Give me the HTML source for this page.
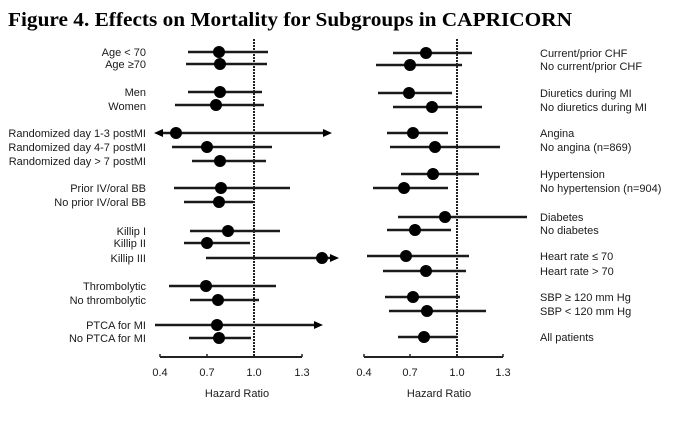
<!DOCTYPE html>
<html><head><meta charset="utf-8"><style>
html,body{margin:0;padding:0;background:#fff;}
svg{display:block;}
text{font-family:"Liberation Sans",Arial,sans-serif;font-size:11px;fill:#1a1a1a;}
.t{font-family:"Liberation Serif","Times New Roman",serif;font-weight:bold;font-size:20px;fill:#000;}
line.ci{stroke:#1a1a1a;stroke-width:2.4;}
circle{fill:#000;}
</style></head><body>
<svg width="677" height="421" viewBox="0 0 677 421" xmlns="http://www.w3.org/2000/svg">
<rect width="677" height="421" fill="#fff"/>
<text class="t" x="8" y="26" textLength="564" lengthAdjust="spacingAndGlyphs">Figure 4. Effects on Mortality for Subgroups in CAPRICORN</text>

<!-- LEFT PANEL -->
<g text-anchor="end">
<text x="146" y="56">Age &lt; 70</text>
<text x="146" y="68">Age ≥70</text>
<text x="146" y="96">Men</text>
<text x="146" y="110">Women</text>
<text x="146" y="137">Randomized day 1-3 postMI</text>
<text x="146" y="151">Randomized day 4-7 postMI</text>
<text x="146" y="165">Randomized day &gt; 7 postMI</text>
<text x="146" y="192">Prior IV/oral BB</text>
<text x="146" y="206">No prior IV/oral BB</text>
<text x="146" y="235">Killip I</text>
<text x="146" y="247">Killip II</text>
<text x="146" y="262">Killip III</text>
<text x="146" y="290">Thrombolytic</text>
<text x="146" y="304">No thrombolytic</text>
<text x="146" y="329">PTCA for MI</text>
<text x="146" y="342">No PTCA for MI</text>
</g>
<g>
<line class="ci" x1="188" y1="52" x2="268" y2="52"/><circle cx="219" cy="52" r="6"/>
<line class="ci" x1="186" y1="64" x2="267" y2="64"/><circle cx="220" cy="64" r="6"/>
<line class="ci" x1="188" y1="92" x2="262" y2="92"/><circle cx="220" cy="92" r="6"/>
<line class="ci" x1="175" y1="105" x2="264" y2="105"/><circle cx="216" cy="105" r="6"/>
<line class="ci" x1="158" y1="133" x2="326" y2="133"/><circle cx="176" cy="133" r="6"/>
<polygon points="154,133 163,129 163,137" fill="#000"/>
<polygon points="332,133 323,129 323,137" fill="#000"/>
<line class="ci" x1="172" y1="147" x2="272" y2="147"/><circle cx="207" cy="147" r="6"/>
<line class="ci" x1="192" y1="161" x2="266" y2="161"/><circle cx="220" cy="161" r="6"/>
<line class="ci" x1="174" y1="188" x2="290" y2="188"/><circle cx="221" cy="188" r="6"/>
<line class="ci" x1="184" y1="202" x2="253" y2="202"/><circle cx="219" cy="202" r="6"/>
<line class="ci" x1="190" y1="231" x2="280" y2="231"/><circle cx="228" cy="231" r="6"/>
<line class="ci" x1="184" y1="243" x2="250" y2="243"/><circle cx="207" cy="243" r="6"/>
<line class="ci" x1="206" y1="258" x2="330" y2="258"/><circle cx="322" cy="258" r="6"/>
<polygon points="339,258 330,254 330,262" fill="#000"/>
<line class="ci" x1="169" y1="286" x2="276" y2="286"/><circle cx="206" cy="286" r="6"/>
<line class="ci" x1="190" y1="300" x2="259" y2="300"/><circle cx="218" cy="300" r="6"/>
<line class="ci" x1="155" y1="325" x2="316" y2="325"/><circle cx="217" cy="325" r="6"/>
<polygon points="323,325 314,321 314,329" fill="#000"/>
<line class="ci" x1="189" y1="338" x2="251" y2="338"/><circle cx="219" cy="338" r="6"/>
</g>
<line x1="254" y1="39" x2="254" y2="357" stroke="#222" stroke-width="2" stroke-dasharray="2 1"/>
<line x1="160" y1="357" x2="302" y2="357" stroke="#222" stroke-width="2"/>
<g stroke="#222" stroke-width="1.5">
<line x1="160" y1="354" x2="160" y2="357"/><line x1="207" y1="354" x2="207" y2="357"/>
<line x1="254" y1="354" x2="254" y2="357"/><line x1="302" y1="354" x2="302" y2="357"/>
</g>
<g text-anchor="middle">
<text x="160" y="376">0.4</text><text x="207" y="376">0.7</text>
<text x="254" y="376">1.0</text><text x="302" y="376">1.3</text>
<text x="237" y="397">Hazard Ratio</text>
</g>

<!-- RIGHT PANEL -->
<g>
<line class="ci" x1="393" y1="53" x2="472" y2="53"/><circle cx="426" cy="53" r="6"/>
<line class="ci" x1="376" y1="65" x2="462" y2="65"/><circle cx="410" cy="65" r="6"/>
<line class="ci" x1="378" y1="93" x2="452" y2="93"/><circle cx="409" cy="93" r="6"/>
<line class="ci" x1="393" y1="107" x2="482" y2="107"/><circle cx="432" cy="107" r="6"/>
<line class="ci" x1="387" y1="133" x2="448" y2="133"/><circle cx="413" cy="133" r="6"/>
<line class="ci" x1="390" y1="147" x2="500" y2="147"/><circle cx="435" cy="147" r="6"/>
<line class="ci" x1="401" y1="174" x2="479" y2="174"/><circle cx="433" cy="174" r="6"/>
<line class="ci" x1="373" y1="188" x2="448" y2="188"/><circle cx="404" cy="188" r="6"/>
<line class="ci" x1="398" y1="217" x2="527" y2="217"/><circle cx="445" cy="217" r="6"/>
<line class="ci" x1="387" y1="230" x2="451" y2="230"/><circle cx="415" cy="230" r="6"/>
<line class="ci" x1="367" y1="256" x2="469" y2="256"/><circle cx="406" cy="256" r="6"/>
<line class="ci" x1="383" y1="271" x2="466" y2="271"/><circle cx="426" cy="271" r="6"/>
<line class="ci" x1="385" y1="297" x2="460" y2="297"/><circle cx="413" cy="297" r="6"/>
<line class="ci" x1="389" y1="311" x2="486" y2="311"/><circle cx="427" cy="311" r="6"/>
<line class="ci" x1="398" y1="337" x2="457" y2="337"/><circle cx="424" cy="337" r="6"/>
</g>
<line x1="457" y1="39" x2="457" y2="357" stroke="#222" stroke-width="2" stroke-dasharray="2 1"/>
<line x1="364" y1="357" x2="503" y2="357" stroke="#222" stroke-width="2"/>
<g stroke="#222" stroke-width="1.5">
<line x1="364" y1="354" x2="364" y2="357"/><line x1="410" y1="354" x2="410" y2="357"/>
<line x1="457" y1="354" x2="457" y2="357"/><line x1="503" y1="354" x2="503" y2="357"/>
</g>
<g text-anchor="middle">
<text x="364" y="376">0.4</text><text x="410" y="376">0.7</text>
<text x="457" y="376">1.0</text><text x="503" y="376">1.3</text>
<text x="439" y="397">Hazard Ratio</text>
</g>
<g>
<text x="540" y="57">Current/prior CHF</text>
<text x="540" y="70">No current/prior CHF</text>
<text x="540" y="97">Diuretics during MI</text>
<text x="540" y="111">No diuretics during MI</text>
<text x="540" y="137">Angina</text>
<text x="540" y="151">No angina (n=869)</text>
<text x="540" y="178">Hypertension</text>
<text x="540" y="192">No hypertension (n=904)</text>
<text x="540" y="221">Diabetes</text>
<text x="540" y="234">No diabetes</text>
<text x="540" y="260">Heart rate ≤ 70</text>
<text x="540" y="275">Heart rate &gt; 70</text>
<text x="540" y="301">SBP ≥ 120 mm Hg</text>
<text x="540" y="315">SBP &lt; 120 mm Hg</text>
<text x="540" y="341">All patients</text>
</g>
</svg>
</body></html>
